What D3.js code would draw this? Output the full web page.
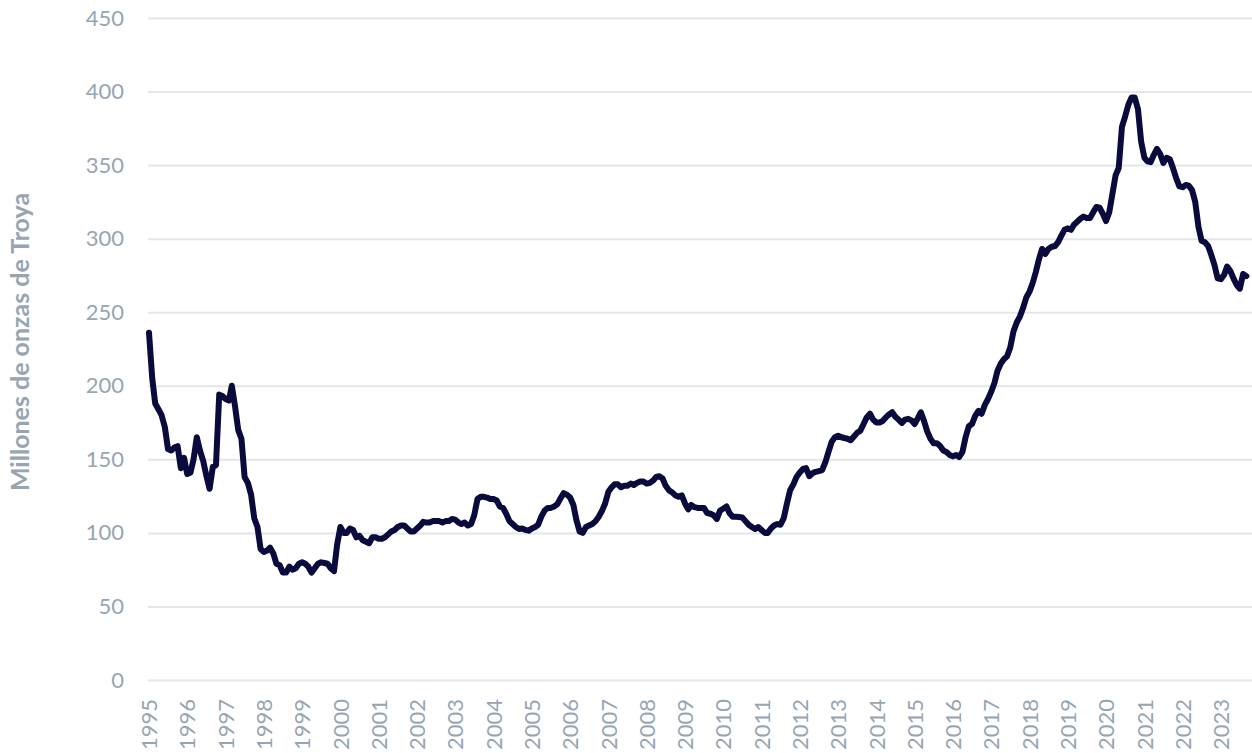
<!DOCTYPE html>
<html lang="es">
<head>
  <meta charset="UTF-8">
  <title>Millones de onzas de Troya</title>
  <script src="https://d3js.org/d3.v7.min.js"></script>
  <style>
    body { margin: 0; background: #fff; }
    .grid line { stroke: #e4e6e8; stroke-width: 2; }
    .grid path { display: none; }
    .axis path, .axis line { display: none; }
    .axis text { fill: #97a5b2; font-family: Lato, sans-serif; font-size: 22px; }
    .axis-label { fill: #97a5b2; font-family: Lato, sans-serif; font-size: 25px; font-weight: bold; text-anchor: middle; }
    .line { fill: none; stroke: #0a0a3c; stroke-width: 6; stroke-linejoin: round; stroke-linecap: round; }
  </style>
</head>
<body>
  <div id="chart"></div>
  <script>
    // monthly values, starting January 1995
    const startYear = 1995;
    const values = [
      236, 205, 188, 184, 180, 172, 157, 156, 158, 159, 144, 151,   // 1995
      140, 141, 150, 165, 156, 149, 139, 130, 145, 146, 194, 193,   // 1996
      191, 190, 200, 186, 170, 164, 138, 134, 126, 110, 104, 89,    // 1997
      87, 88, 90, 86, 79, 78, 73, 73, 77, 75, 76, 79,               // 1998
      80, 79, 77, 73, 76, 79, 80, 79.5, 79, 76, 74, 92,             // 1999
      104, 100, 100, 103, 102, 97, 98, 95, 94, 93, 97, 97,          // 2000
      96, 96, 97, 99, 101, 102, 104, 105, 105, 103, 101, 101,       // 2001
      103, 105, 107.5, 107, 107, 108, 108, 108, 107, 108, 108, 109.5, // 2002
      109, 107, 106, 107, 105, 106, 112, 123, 124.5, 124.5, 124, 123, // 2003
      123, 122, 118, 117, 113, 108, 106, 104, 102.6, 103, 102, 101.5, // 2004
      103, 104, 105.5, 111, 115, 117, 117, 118, 119.5, 123.5, 127, 126, // 2005
      124, 119, 109, 101, 100, 104, 105, 106, 108, 111, 115, 120,   // 2006
      128, 131, 133, 133, 131, 132, 132, 133.5, 132.5, 134, 135, 135, // 2007
      133.5, 134, 135.5, 138, 138.5, 137, 132, 129, 127.5, 125.5, 124.5, 125.5, // 2008
      120, 116, 119, 117.5, 117, 117, 117, 113.5, 113, 112, 109.5, 115, // 2009
      116.5, 118, 113.5, 111, 111, 110.8, 110.5, 108, 105.5, 104, 102.6, 104, // 2010
      102, 100, 100, 103, 105, 106, 105.5, 110, 120, 129, 133, 138, // 2011
      141, 143.5, 144, 138.5, 140.5, 141.5, 142, 142.7, 148, 155, 162, 165, // 2012
      166, 165, 164.5, 164, 163, 165.5, 168, 169.5, 174, 178.5, 181, 177, // 2013
      175, 175, 176, 178.5, 180.5, 182, 179, 177, 174.7, 177, 177.5, 176.5, // 2014
      174, 178, 182, 176, 169, 164, 161, 161, 159, 156, 155, 153,   // 2015
      152, 153, 151.6, 155, 165, 172.5, 174, 179.5, 183, 181, 187, 191, // 2016
      196, 202, 210, 215, 218, 220, 226, 237, 243, 247, 253, 260,   // 2017
      264, 270, 277, 286, 293, 289.6, 293, 294.5, 295, 297.7, 302, 306, // 2018
      307, 306, 309.5, 311.5, 313.5, 315, 314, 314, 318, 321.5, 321, 317, // 2019
      312, 318, 330, 343, 348, 376, 383, 391, 396, 396, 388, 366,   // 2020
      355, 352.5, 352, 357, 361, 357.5, 351.5, 355, 354, 348, 341, 335.5, // 2021
      335, 336.5, 336, 333, 325, 308, 298.5, 297.5, 295, 289, 282, 273, // 2022
      272.5, 275.5, 281, 278, 273, 268.5, 266, 276, 274.5           // 2023
    ];
    const yearLabels = ["1995","1996","1997","1998","1999","2000","2001","2002","2003","2004",
      "2005","2006","2007","2008","2009","2010","2011","2012","2013","2014","2015","2016",
      "2017","2018","2019","2020","2021","2022","2023"];
    const yTicks = [0, 50, 100, 150, 200, 250, 300, 350, 400, 450];
    const yTitle = "Millones de onzas de Troya";

    const W = 1252, H = 753;
    const plotLeft = 149, plotTop = 18, plotBottom = 680;

    const data = values.map((v, i) => ({ date: new Date(startYear, i, 1), value: v }));

    const svg = d3.select("#chart").append("svg")
      .attr("width", W)
      .attr("height", H);

    const x = d3.scaleTime()
      .domain([data[0].date, data[data.length - 1].date])
      .range([plotLeft, plotLeft + (data.length - 1) * 3.19]);

    const y = d3.scaleLinear()
      .domain([0, 450])
      .range([plotBottom, plotTop]);

    // gridlines
    svg.append("g")
      .attr("class", "grid")
      .attr("transform", `translate(${plotLeft - 1},0)`)
      .call(d3.axisRight(y).tickValues(yTicks).tickSize(W - plotLeft + 1).tickFormat(""));

    // y axis
    svg.append("g")
      .attr("class", "axis")
      .attr("transform", `translate(${plotLeft - 25},0)`)
      .call(d3.axisLeft(y).tickValues(yTicks).tickSize(0).tickPadding(0));

    // x axis
    const xg = svg.append("g")
      .attr("class", "axis")
      .attr("transform", `translate(0,${plotBottom})`)
      .call(d3.axisBottom(x)
        .tickValues(yearLabels.map(d => new Date(+d, 0, 1)))
        .tickFormat(d3.timeFormat("%Y"))
        .tickSize(0));
    xg.selectAll("text")
      .attr("transform", "rotate(-90)")
      .attr("text-anchor", "end")
      .attr("x", -19)
      .attr("y", 0)
      .attr("dy", "0.35em");

    // y axis title
    svg.append("text")
      .attr("class", "axis-label")
      .attr("transform", "rotate(-90)")
      .attr("x", -342)
      .attr("y", 29)
      .text(yTitle);

    // line
    svg.append("path")
      .datum(data)
      .attr("class", "line")
      .attr("d", d3.line().x(d => x(d.date)).y(d => y(d.value)));
  </script>
</body>
</html>
